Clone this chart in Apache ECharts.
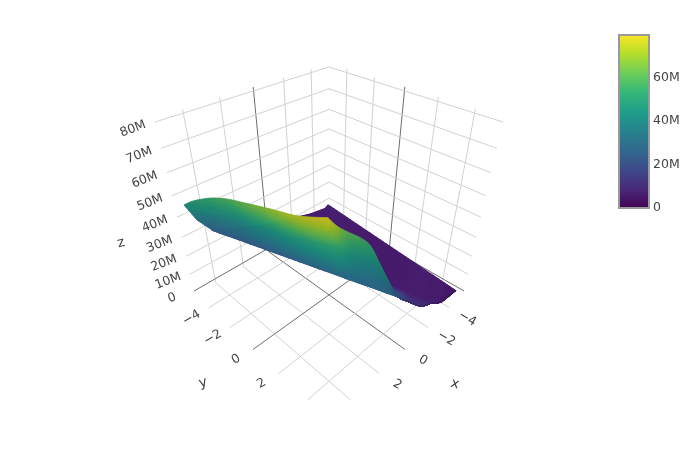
<!DOCTYPE html>
<html><head><meta charset="utf-8"><style>html,body{margin:0;background:#fff}#c{width:700px;height:450px}</style>
<script src="https://cdn.jsdelivr.net/npm/echarts@6/dist/echarts.min.js"></script></head><body><div id="c"></div>
<script>
const xTicks=[-4,-2,0,2,4], yTicks=[-4,-2,0,2,4], zTicks=[0,10,20,30,40,50,60,70,80];
const colorbarTicks=[0,20,40,60], colorMax=79.7;
// surface: five rows of 24 vertices, x, y and z (millions)
const xBack=[-5.03,-4.98,-5.06,-5.01,-4.96,-4.91,-5.00,-4.95,-4.91,-4.86,-4.82,-4.78,-4.74,-4.70,-4.66,-4.62,-4.58,-4.54,-4.50,-4.47,-4.43,-4.40,-4.49,-4.46];
const yBack=[-5.12,-4.54,-4.10,-3.55,-3.00,-2.47,-2.06,-1.55,-1.04,-0.55,-0.07,0.40,0.86,1.32,1.76,2.20,2.62,3.04,3.45,3.85,4.24,4.63,4.95,5.33];
const zBack=[8,8,7,7,7,7,6,6,6,6,6,6,6,6,6,6,6,6,6,6,6,6,5,5];
const xInner=[-3.69,-0.96,-1.16,-1.34,-1.51,-1.68,-1.85,-2.01,-2.17,-2.33,-2.39,-2.47,-2.55,-1.98,-2.08,-2.18,-2.27,-2.24,-2.34,-2.66,-3.00,-3.26,-3.68,-4.46];
const yInner=[-4.91,-6.58,-5.63,-4.75,-3.89,-3.05,-2.24,-1.44,-0.67,0.08,0.52,0.99,1.45,2.09,2.53,2.93,3.32,3.94,4.45,4.67,4.86,5.17,5.23,5.33];
const zInner=[5,6,6,6,6,6,6,6,6,6,6,6,6,6,6,6,6,7,7,6,6,6,5,5];
const xLow=[3.43,3.20,2.88,2.59,2.41,2.14,1.97,1.72,1.57,1.34,1.23,1.11,0.98,0.86,0.64,0.54,0.22,-0.97,-1.21,-1.68,-2.32,-2.87,-3.37,-4.46];
const yLow=[-5.69,-4.95,-3.92,-2.98,-1.94,-1.05,-0.09,0.74,1.64,2.41,2.77,3.16,3.55,3.94,4.25,4.58,4.76,4.60,5.05,5.17,5.19,5.35,5.35,5.33];
const zLow=[24,24,24,24,25,25,26,26,27,27,27,27,27,27,26,26,24,14,13,11,9,7,6,5];
const xMid=[4.25,3.88,3.56,3.34,3.27,3.16,3.14,3.04,2.95,2.76,2.28,1.70,1.37,1.12,0.90,0.66,0.22,-0.97,-1.21,-1.68,-2.32,-2.87,-3.37,-4.46];
const yMid=[-5.66,-5.07,-3.96,-2.85,-1.64,-0.54,0.57,1.51,2.41,3.19,3.21,3.22,3.55,3.89,4.22,4.54,4.76,4.60,5.05,5.17,5.19,5.35,5.35,5.33];
const zMid=[33,35,37.5,39.5,42,44,46.5,48,50,51.35,47,42.5,40.5,38.5,34.5,30,24,14,13,11,9,7,6,5];
const xTop=[5.08,4.93,4.69,4.60,4.69,4.81,4.99,5.10,5.13,5.09,4.12,2.98,2.40,1.99,1.68,1.24,0.22,-0.97,-1.21,-1.68,-2.32,-2.87,-3.37,-4.46];
const yTop=[-5.01,-4.27,-3.01,-1.71,-0.31,1.04,2.30,3.36,4.26,5.04,4.51,3.95,4.12,4.34,4.60,4.83,4.76,4.60,5.05,5.17,5.19,5.35,5.35,5.33];
const zTop=[46,50,55,59,63,67,71,74,77,79.7,71,62,58,54,47,38,24,14,13,11,9,7,6,5];
const xRows=[xBack,xInner,xLow,xMid,xTop], yRows=[yBack,yInner,yLow,yMid,yTop], zRows=[zBack,zInner,zLow,zMid,zTop];

const R=5.4, zMin=-2.4, zMax=81.6;
const cam={cx:329,A:135,B:26.8,C:-196.3,Y0:291,al:-0.2376,be:-0.2241};
function proj(x,y,z){const c=z/80,d=(x+y)/(2*R),p=(y-x)/(2*R),w=1+cam.al*d+cam.be*c;return [cam.cx+cam.A*p/w,(cam.Y0+cam.B*d+cam.C*c)/w];}
const lerp=(a,b,t)=>[a[0]+(b[0]-a[0])*t,a[1]+(b[1]-a[1])*t];
const n=xBack.length;
const surf=xRows.map((r,i)=>r.map((v,j)=>[v,yRows[i][j],zRows[i][j]]));
const stops=['#440154','#482878','#3e4989','#31688e','#26828e','#1f9e89','#35b779','#6ece58','#b5de2b','#fde725'];
const rgb=stops.map(h=>[1,3,5].map(i=>parseInt(h.substr(i,2),16)));
function col(z,sh){let t=Math.max(0,Math.min(1,z/colorMax))*9,i=Math.min(8,Math.floor(t)),f=t-i;const a=rgb[i],b=rgb[i+1];return 'rgb('+a.map((v,k)=>Math.round((v+(b[k]-v)*f)*sh)).join(',')+')';}
const shade=[1,1,.93,.86,.8];
const breaks=[9];
function cr(a,b,c,d,t){return .5*((2*b)+(-a+c)*t+(2*a-5*b+4*c-d)*t*t+(-a+3*b-3*c+d)*t*t*t);}
function sampleRow(i,j,t){const r=surf[i];const b=r[j],c=r[j+1];const a=(j>0&&!breaks.includes(j))?r[j-1]:b;const d=(j+2<n&&!breaks.includes(j+1))?r[j+2]:c;return [0,1,2].map(k=>cr(a[k],b[k],c[k],d[k],t));}
const polys=[];const subs=[[1,2],[3,3],[9,5],[9,5]];
const pt=(i,j,u,v)=>{const a=sampleRow(i,j,v),b=sampleRow(i+1,j,v);const q=a.map((x,k)=>x+(b[k]-x)*u);q[3]=shade[i]+(shade[i+1]-shade[i])*u;return q;};
for(let i=0;i<4;i++)for(let j=0;j<n-1;j++){const [a,b]=subs[i];for(let s=0;s<a;s++)for(let t=0;t<b;t++){const q=[pt(i,j,s/a,t/b),pt(i,j,s/a,(t+1)/b),pt(i,j,(s+1)/a,(t+1)/b),pt(i,j,(s+1)/a,t/b)];polys.push({q,w:i<2?1.2:.7,z:(q[0][2]+q[1][2]+q[2][2]+q[3][2])/4,sh:(q[0][3]+q[2][3])/2});}}
const lines=[];const G='#d2d2d2',D='#6e6e6e';
xTicks.forEach(t=>{const c=t===0?D:G;lines.push([t,-R,zMin,t,R,zMin,c]);lines.push([t,-R,zMin,t,-R,zMax,c]);});
yTicks.forEach(t=>{const c=t===0?D:G;lines.push([-R,t,zMin,R,t,zMin,c]);lines.push([-R,t,zMin,-R,t,zMax,c]);});
zTicks.forEach(t=>{const c=t===0?D:G;lines.push([R,-R,t,-R,-R,t,c]);lines.push([-R,-R,t,-R,R,t,c]);});
function clipY(a,b,m){if(a[1]>m&&b[1]>m)return null;if(a[1]>m)a=lerp(b,a,(m-b[1])/(a[1]-b[1]));if(b[1]>m)b=lerp(a,b,(m-a[1])/(b[1]-a[1]));return [a,b];}
const labels=[];
zTicks.forEach(t=>{const q=proj(R,-R,t);labels.push([q[0]-22,q[1]+7,t?t+'M':'0',-21]);});
xTicks.slice(0,4).forEach(t=>{const q=proj(t,R,zMin);labels.push([q[0]+18,q[1]+11,(t<0?'\u2212'+(-t):''+t),30]);});
yTicks.slice(0,4).forEach(t=>{const q=proj(R,t,zMin);labels.push([q[0]-17,q[1]+10,(t<0?'\u2212'+(-t):''+t),-30]);});
const titles=[[121,243,'z',-15],[203,383,'y',-15],[455,384,'x',15]];
const font='"DejaVu Sans"';
const chart=echarts.init(document.getElementById('c'),null,{renderer:'canvas'});
chart.setOption({animation:false,backgroundColor:'#fff',
grid:[{left:0,top:0,width:700,height:450},{left:619,top:35,width:30,height:173}],
xAxis:[{type:'value',min:0,max:700,show:false,gridIndex:0},{type:'value',min:0,max:1,show:false,gridIndex:1}],
yAxis:[{type:'value',min:0,max:450,inverse:true,show:false,gridIndex:0},
{type:'value',gridIndex:1,position:'right',min:0,max:colorMax,interval:20,splitLine:{show:false},axisLine:{show:false},axisTick:{show:true,length:3,lineStyle:{color:'#444'}},axisLabel:{margin:4,color:'#444',fontFamily:font,fontSize:12.5,showMaxLabel:false,formatter:v=>colorbarTicks.includes(v)?(v?v+'M':'0'):''}}],
series:[
{type:'custom',coordinateSystem:'cartesian2d',silent:true,clip:false,data:lines.map((_,i)=>[i]),renderItem:(p,api)=>{const l=lines[api.value(0)];const s=clipY(proj(l[0],l[1],l[2]),proj(l[3],l[4],l[5]),400);if(!s)return;const a=api.coord(s[0]),b=api.coord(s[1]);return {type:'line',shape:{x1:a[0],y1:a[1],x2:b[0],y2:b[1]},style:{stroke:l[6],lineWidth:1}};}},
{type:'custom',coordinateSystem:'cartesian2d',silent:true,clip:false,data:polys.map((_,i)=>[i]),renderItem:(p,api)=>{const g=polys[api.value(0)];const c=col(g.z,g.sh);return {type:'polygon',shape:{points:g.q.map(v=>api.coord(proj(v[0],v[1],v[2])))},style:{fill:c,stroke:c,lineWidth:g.w}};}},
{type:'custom',coordinateSystem:'cartesian2d',silent:true,clip:false,data:labels.concat(titles).map((_,i)=>[i]),renderItem:(p,api)=>{const all=labels.concat(titles);const i=api.value(0),l=all[i];const a=api.coord([l[0],l[1]]);return {type:'text',x:a[0],y:a[1],rotation:-l[3]*Math.PI/180,style:{text:l[2],fill:'#444',font:(i>=labels.length?14:12.5)+'px '+font,align:'center',verticalAlign:'middle'}};}},
{type:'custom',coordinateSystem:'cartesian2d',xAxisIndex:1,yAxisIndex:1,silent:true,clip:false,data:[[0]],renderItem:(p,api)=>{const a=api.coord([0,colorMax]),b=api.coord([1,0]);return {type:'rect',shape:{x:a[0],y:a[1],width:b[0]-a[0],height:b[1]-a[1]},style:{fill:new echarts.graphic.LinearGradient(0,1,0,0,stops.map((c,i)=>({offset:i/9,color:c}))),stroke:'#999',lineWidth:2}};}}
]});
</script></body></html>
